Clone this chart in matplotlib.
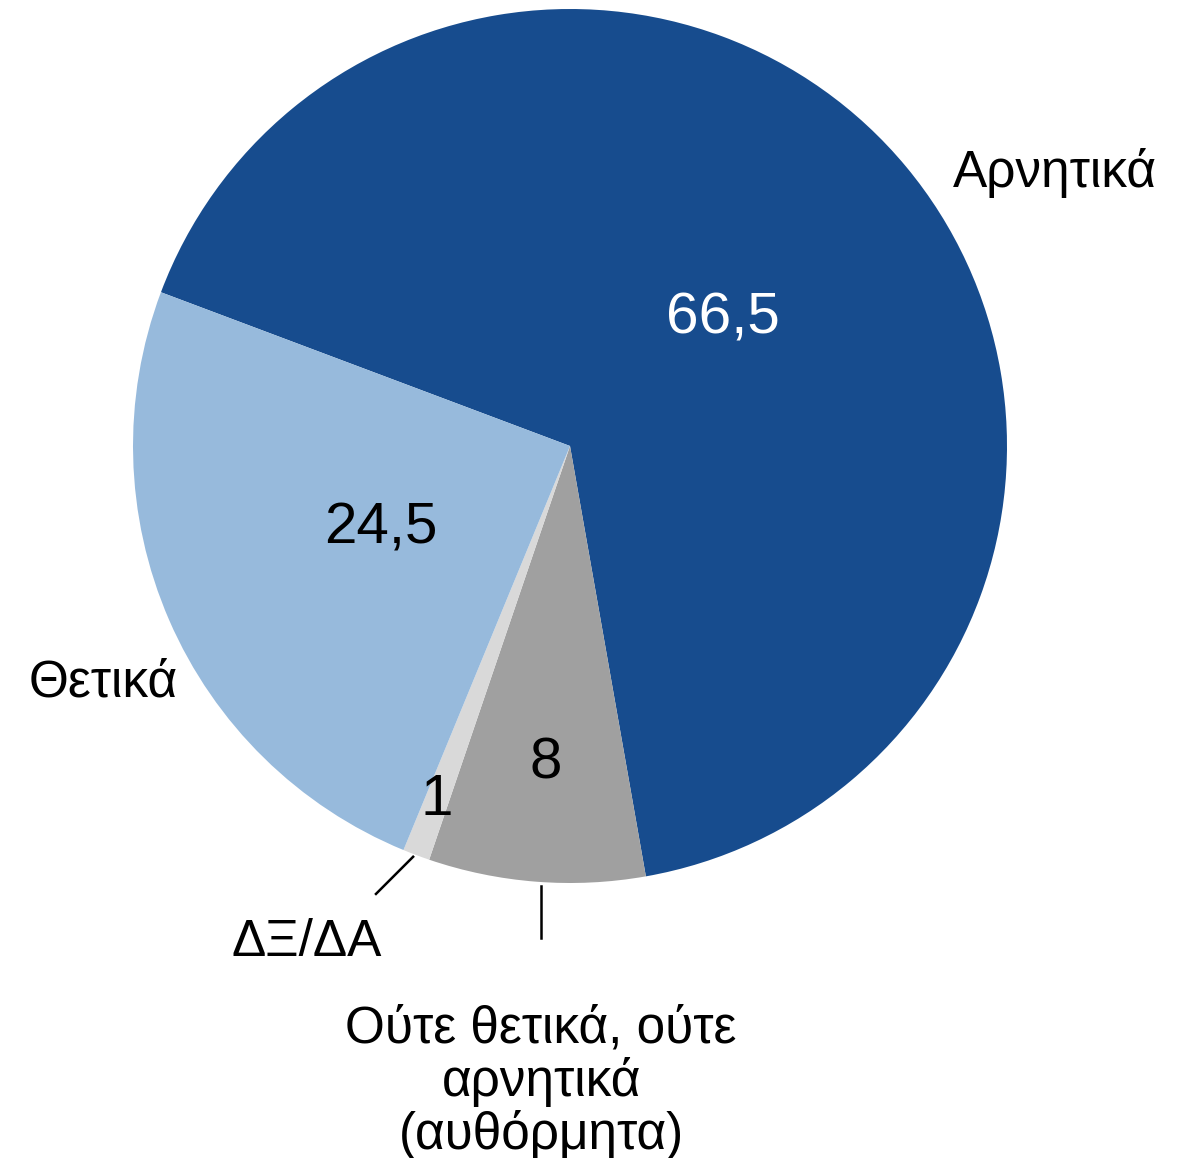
import numpy as np
import matplotlib
matplotlib.use("Agg")
import matplotlib.pyplot as plt

plt.rcParams['font.family'] = ['Liberation Sans', 'DejaVu Sans']

categories = ["Αρνητικά", "Ούτε θετικά, ούτε\nαρνητικά\n(αυθόρμητα)", "ΔΞ/ΔΑ", "Θετικά"]
values = [66.5, 8, 1, 24.5]
value_labels = ["66,5", "8", "1", "24,5"]
colors = ["#174C8E", "#A0A0A0", "#D9D9D9", "#97BADC"]
value_colors = ["white", "black", "black", "black"]

# layout
start_angle = 159.4
value_dist = [0.455, 0.728, 0.865, 0.473]
label_pos = [(0.876, 0.625, 'left'), (-0.066, -1.456, 'center'),
             (-0.602, -1.137, 'center'), (-0.897, -0.542, 'right')]

fig = plt.figure(figsize=(11.93, 11.58), dpi=100)
ax = fig.add_axes([0, 0, 1, 1])
wedges, _ = ax.pie(values, colors=colors, startangle=start_angle,
                   counterclock=False, radius=1.0,
                   wedgeprops=dict(linewidth=0))
ax.set_xlim(-570/437, (1193-570)/437)
ax.set_ylim(-(1158-446)/437, 446/437)
ax.set_aspect('equal')
ax.axis('off')

for w, vl, d, c in zip(wedges, value_labels, value_dist, value_colors):
    mid = np.deg2rad((w.theta1 + w.theta2) / 2)
    ax.text(d*np.cos(mid), d*np.sin(mid), vl, ha='center', va='center',
            fontsize=42, color=c)

for cat, (x, y, ha) in zip(categories, label_pos):
    ax.text(x, y, cat, ha=ha, va='center', fontsize=37, color='black',
            linespacing=1.08)

# leader lines
ax.plot([-0.359, -0.444], [-0.940, -1.025], color='black', lw=1.8)
ax.plot([-0.066, -0.066], [-1.007, -1.126], color='black', lw=1.8)

fig.savefig("out.png", dpi=100, facecolor='white')
